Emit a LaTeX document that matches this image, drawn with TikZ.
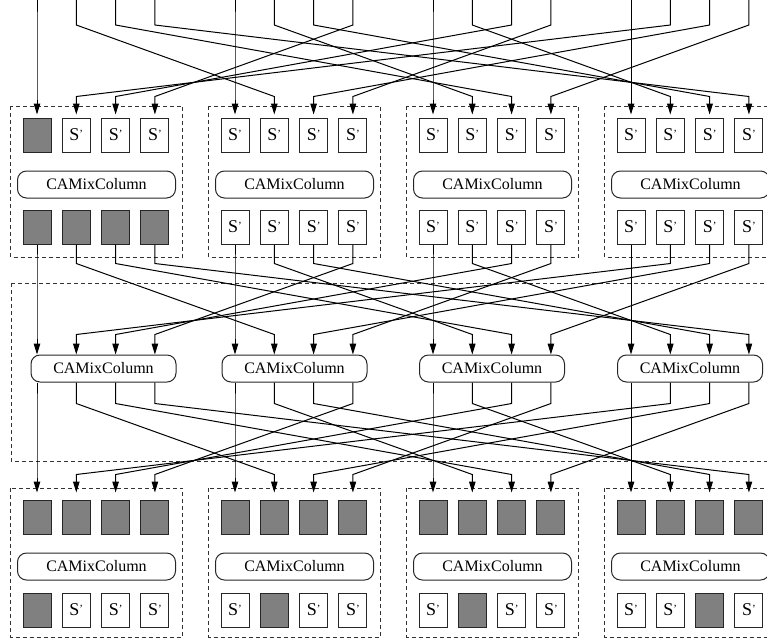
\documentclass[tikz,border=0pt]{standalone}
\usepackage{fontspec}
\setmainfont{Liberation Serif}
\usetikzlibrary{arrows.meta,calc}
\tikzset{
    % byte cells (S' = substituted byte, grey = fixed byte)
    cell/.style={
        draw=black!85, fill=white,
        minimum width=28pt, minimum height=34pt, inner sep=0pt,
        font=\fontsize{18}{20}\selectfont, line width=1pt
    },
    fixedcell/.style={cell, fill=gray},
    % column mixing block
    mixbox/.style={
        draw=black!85, rounded corners=9pt,
        minimum height=27pt, inner sep=0pt,
        font=\fontsize{16}{18}\selectfont, line width=1pt
    },
    % dashed frames round each column
    groupframe/.style={draw=black!80, line width=1pt, dash pattern=on 4pt off 3pt},
    % wiring between the layers
    wire/.style={-{Triangle[length=11pt,width=6.5pt]}, line width=1pt},
}
% one byte cell: name, x, y, 1 = fixed (grey)
\newcommand{\bytecell}[4]{%
  \ifnum#4=1 \node[fixedcell] (#1) at (#2,#3) {};%
  \else \node[cell] (#1) at (#2,#3) {S\raisebox{3pt}{\fontsize{11}{11}\selectfont'}};\fi}

\begin{document}
\begin{tikzpicture}[x=1pt,y=-1pt]
  \clip (0,0) rectangle (767,641);

  % dashed frames
  \foreach \g in {0,...,3} {
    \draw[groupframe] (10.5+198*\g,106) rectangle (182.5+198*\g,257);
    \draw[groupframe] (10.5+198*\g,488) rectangle (182.5+198*\g,637);
  }
  \draw[groupframe] (11,283) rectangle (780,461);

  % mixing blocks
  \foreach \g in {0,...,3} {
    \node[mixbox, minimum width=158pt] (umix-\g) at (96.5+198*\g,184.5) {CAMixColumn};
    \node[mixbox, minimum width=158pt] (lmix-\g) at (96.5+198*\g,566.5) {CAMixColumn};
  }
  \foreach \g/\mx in {0/103.5,1/294.5,2/492,3/690}
    \node[mixbox, minimum width=145pt] (mmix-\g) at (\mx,368.5) {CAMixColumn};

  % byte cells of the upper frames and the lower input rows
  \foreach \g in {0,...,3} \foreach \i in {0,...,3} {
    \pgfmathsetmacro\cx{37+198*\g+39.3*\i}
    \pgfmathtruncatemacro\ua{and(\g==0,\i==0)}
    \pgfmathtruncatemacro\ub{\g==0}
    \bytecell{uin-\g-\i}{\cx}{135}{\ua}
    \bytecell{uout-\g-\i}{\cx}{227}{\ub}
    \bytecell{lin-\g-\i}{\cx}{517}{1}
    \coordinate (top-\g-\i) at (\cx,-2);
  }
  % lower output rows: one fixed byte per column
  \foreach \g/\k in {0/0,1/1,2/1,3/2} \foreach \i in {0,...,3} {
    \pgfmathsetmacro\cx{37+198*\g+39.3*\i}
    \pgfmathtruncatemacro\lb{\i==\k}
    \bytecell{lout-\g-\i}{\cx}{610}{\lb}
  }

  % ports on the middle mixing blocks
  \foreach \g in {0,...,3} \foreach \i in {0,...,3} {
    \coordinate (min-\g-\i) at (mmix-\g.north -| uout-\g-\i);
    \coordinate (mout-\g-\i) at (mmix-\g.south -| uout-\g-\i);
  }

  % the three shift layers: byte i of column g goes to column g+i
  \foreach \g in {0,...,3} \foreach \i in {0,...,3} {
    \pgfmathtruncatemacro\h{mod(\g+\i,4)}
    \draw[wire] (top-\g-\i) -- ++(0,27)
       -- ($(uin-\h-\i.north)+(0,-21)$) -- ($(uin-\h-\i.north)+(0,-3)$);
    \draw[wire] (uout-\g-\i.south) -- ++(0,19)
       -- ($(min-\h-\i)+(0,-20)$) -- (min-\h-\i);
    \draw[wire] (mout-\g-\i) -- ++(0,21)
       -- ($(lin-\h-\i.north)+(0,-25)$) -- ($(lin-\h-\i.north)+(0,-7)$);
  }
\end{tikzpicture}
\end{document}
